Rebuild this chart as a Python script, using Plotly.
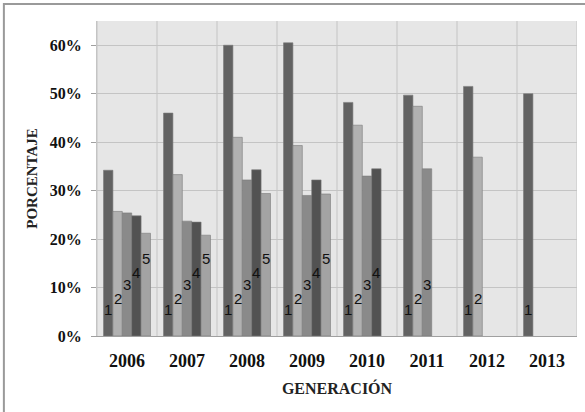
import plotly.graph_objects as go

years = ["2006", "2007", "2008", "2009", "2010", "2011", "2012", "2013"]
s1 = [34.2, 46.0, 60.0, 60.5, 48.2, 49.7, 51.5, 50.0]
s2 = [25.7, 33.3, 41.0, 39.3, 43.5, 47.4, 36.9, None]
s3 = [25.4, 23.7, 32.2, 29.0, 33.0, 34.5, None, None]
s4 = [24.8, 23.5, 34.3, 32.2, 34.5, None, None, None]
s5 = [21.2, 20.8, 29.4, 29.3, None, None, None, None]
series_names = ["1", "2", "3", "4", "5"]
series = [s1, s2, s3, s4, s5]
ytick_vals = [0, 10, 20, 30, 40, 50, 60]
ytick_text = ["0%", "10%", "20%", "30%", "40%", "50%", "60%"]

colors = ["#626262", "#b1b1b1", "#8a8a8a", "#525252", "#a3a3a3"]
label_y = [5.4, 7.8, 10.7, 13.2, 15.9]

fig = go.Figure()
for name, vals, c in zip(series_names, series, colors):
    fig.add_trace(go.Bar(
        x=years, y=vals, name=name,
        marker=dict(color=c, line=dict(color="#7a7a7a", width=0.6)),
        showlegend=False, hoverinfo="skip",
    ))

serif = "Liberation Serif"
sans = "Liberation Sans"
annotations = []
pitch = 9.4
for i, (name, vals) in enumerate(zip(series_names, series)):
    for j, (yr, v) in enumerate(zip(years, vals)):
        if v is None:
            continue
        annotations.append(dict(
            x=j, y=label_y[i], xref="x", yref="y", text=name, showarrow=False,
            xshift=(i - 2) * pitch,
            font=dict(family=sans, size=15, color="#111111"),
        ))

shapes = []
for k in range(len(years) + 1):
    shapes.append(dict(type="line", xref="x", yref="paper", x0=k - 0.5, x1=k - 0.5, y0=0, y1=1,
                       line=dict(color="#c4c4c4", width=1), layer="below"))
# outer frame
shapes.append(dict(type="rect", xref="paper", yref="paper", x0=-0.194, x1=1.2, y0=-0.4, y1=1.054,
                   line=dict(color="#9a9a9a", width=2), fillcolor="rgba(0,0,0,0)"))

fig.update_layout(
    width=585, height=412,
    margin=dict(l=97, r=8, t=21, b=76, autoexpand=False),
    paper_bgcolor="white", plot_bgcolor="#e6e6e6",
    barmode="group", bargap=0.217, bargroupgap=0,
    annotations=annotations, shapes=shapes,
    xaxis=dict(
        type="category", range=[-0.5, 7.5], showgrid=False, automargin=False,
        tickmode="array", tickvals=years, ticktext=["<b>" + y + "</b>" for y in years],
        tickfont=dict(family=serif, size=18, color="#111111"),
        ticklabelstandoff=8,
        showline=True, linecolor="#a0a0a0", linewidth=1, ticks="",
        title=dict(text="<b>GENERACIÓN</b>", font=dict(family=serif, size=16, color="#222222"), standoff=13),
    ),
    yaxis=dict(
        range=[0, 65], tickmode="array", tickvals=ytick_vals,
        ticktext=["<b>" + t + "</b>" for t in ytick_text], automargin=False,
        showgrid=True, gridcolor="#c4c4c4", gridwidth=1,
        tickfont=dict(family=serif, size=16, color="#111111"),
        ticks="outside", ticklen=5, tickcolor="#a0a0a0", ticklabelstandoff=6,
        showline=True, linecolor="#c4c4c4", zeroline=False,
        title=dict(text="<b>PORCENTAJE</b>", font=dict(family=serif, size=15, color="#222222"), standoff=8),
    ),
)

fig.write_html("out.html", config={"displayModeBar": False},
               post_script="document.body.style.margin='0';document.body.style.overflow='hidden';")
